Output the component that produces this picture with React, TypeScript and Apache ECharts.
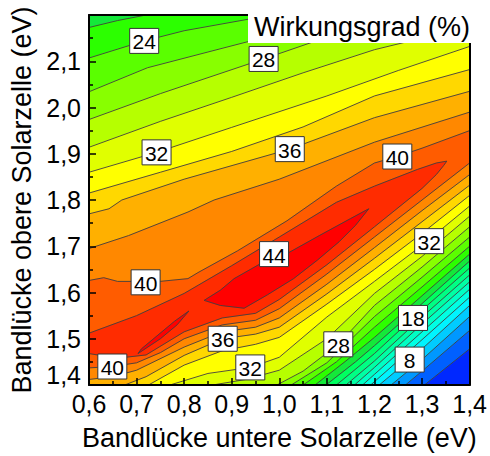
import React, { useEffect, useRef } from 'react';
import * as echarts from 'echarts';

type P = [number, number];

const FONT = "'Liberation Sans', Arial, Helvetica, sans-serif";

// axis ranges (eV)
const X_MIN = 0.6, X_MAX = 1.4, Y_MIN = 1.4, Y_MAX = 2.2;

// contour levels (%)
const levels = [2, 4, 6, 8, 10, 12, 14, 16, 18, 20, 22, 24, 26, 28, 30, 32, 34, 36, 38, 40, 42, 44];

// colour of band [2k, 2k+2]
const bandColors = [
  '#0028ff', '#0060ff', '#0098ff', '#00ccff', '#00f4ff', '#00ffe4', '#00ffc4', '#00ffa4',
  '#00ff84', '#00ff60', '#14e83a', '#2cff00', '#5aff00', '#88ff00', '#b6ff00', '#e0ff00',
  '#ffff00', '#ffd800', '#ffb000', '#ff8800', '#ff5c00', '#ff2c00', '#ff0000',
];

// upper contour branches (read left -> right), efficiency falls towards the top
const U22: P[] = [[0.6, 2.173], [0.66, 2.188], [0.72, 2.2]];
const U24: P[] = [[0.6, 2.107], [0.716, 2.144], [0.8, 2.166], [0.93, 2.19], [0.99, 2.2]];
const U26: P[] = [[0.6, 2.034], [0.723, 2.086], [0.85, 2.12], [1.0, 2.16], [1.2, 2.2]];
const U28: P[] = [[0.6, 1.974], [0.75, 2.03], [0.967, 2.105], [1.1, 2.152], [1.24, 2.2]];
const U30: P[] = [[0.6, 1.914], [0.75, 1.97], [0.9, 2.022], [1.05, 2.075], [1.2, 2.125], [1.4, 2.175]];
const U32: P[] = [[0.6, 1.86], [0.742, 1.903], [0.9, 1.957], [1.1, 2.025], [1.25, 2.08], [1.4, 2.132]];
const U34: P[] = [[0.6, 1.815], [0.75, 1.86], [0.9, 1.905], [1.05, 1.958], [1.2, 2.025], [1.4, 2.082]];
const U36: P[] = [[0.6, 1.77], [0.642, 1.781], [0.669, 1.8], [0.8, 1.845], [1.022, 1.91], [1.2, 1.978], [1.4, 2.035]];
const U38: P[] = [[0.6, 1.695], [0.683, 1.723], [0.808, 1.774], [0.863, 1.8], [1.0, 1.845], [1.2, 1.925], [1.4, 1.99]];
const U40: P[] = [[0.6, 1.626], [0.631, 1.632], [0.66, 1.624], [0.749, 1.624], [0.808, 1.63], [0.829, 1.643],
  [0.912, 1.69], [1.016, 1.755], [1.12, 1.83], [1.2, 1.88], [1.248, 1.894], [1.3, 1.912], [1.4, 1.95]];

// 42 % contour around the ridge (lower branch out, upper branch back)
const K42: P[] = [[0.6, 1.468], [0.66, 1.458], [0.72, 1.465], [0.8, 1.515], [0.88, 1.545], [0.95, 1.555],
  [1.0, 1.585], [1.1, 1.66], [1.2, 1.742], [1.3, 1.825], [1.33, 1.855], [1.345, 1.874], [1.352, 1.884],
  [1.33, 1.88], [1.29, 1.866], [1.2, 1.83], [1.12, 1.795], [1.0, 1.72], [0.9, 1.658], [0.83, 1.616],
  [0.8, 1.598], [0.7, 1.55], [0.6, 1.512]];

// 44 % islands
const M44: P[] = [[0.842, 1.583], [0.876, 1.572], [0.926, 1.566], [0.975, 1.595], [1.03, 1.63], [1.08, 1.67],
  [1.126, 1.71], [1.16, 1.745], [1.188, 1.781], [1.15, 1.76], [1.084, 1.723], [1.016, 1.684], [0.96, 1.662],
  [0.905, 1.63], [0.876, 1.605]];
const S44: P[] = [[0.703, 1.468], [0.75, 1.5], [0.785, 1.53], [0.81, 1.56], [0.78, 1.538], [0.745, 1.508], [0.71, 1.478]];

// lower contour branches (read left -> right), efficiency falls towards the bottom right
const D40: P[] = [[0.6, 1.437], [0.649, 1.44], [0.7, 1.448], [0.75, 1.47], [0.8, 1.5], [0.88, 1.53], [0.95, 1.54],
  [1.0, 1.565], [1.1, 1.64], [1.2, 1.72], [1.3, 1.8], [1.4, 1.88]];
const D38: P[] = [[0.6, 1.412], [0.65, 1.418], [0.7, 1.432], [0.8, 1.482], [0.88, 1.515], [0.95, 1.525], [1.0, 1.545],
  [1.1, 1.618], [1.2, 1.697], [1.3, 1.777], [1.4, 1.855]];
const D36: P[] = [[0.675, 1.4], [0.72, 1.418], [0.8, 1.464], [0.881, 1.5], [0.95, 1.51], [1.0, 1.525], [1.1, 1.597],
  [1.2, 1.674], [1.3, 1.753], [1.4, 1.832]];
const D34: P[] = [[0.725, 1.4], [0.8, 1.443], [0.88, 1.474], [0.95, 1.488], [1.0, 1.503], [1.1, 1.575], [1.2, 1.65],
  [1.3, 1.728], [1.4, 1.81]];
const D32: P[] = [[0.77, 1.4], [0.85, 1.425], [0.939, 1.438], [1.0, 1.46], [1.1, 1.547], [1.2, 1.624], [1.3, 1.702], [1.4, 1.787]];
const D30: P[] = [[0.86, 1.4], [0.93, 1.412], [1.0, 1.432], [1.1, 1.5], [1.2, 1.598], [1.3, 1.678], [1.4, 1.765]];
const D28: P[] = [[0.995, 1.4], [1.05, 1.43], [1.124, 1.488], [1.2, 1.572], [1.3, 1.655], [1.4, 1.742]];
const D26: P[] = [[1.025, 1.4], [1.1, 1.448], [1.2, 1.548], [1.3, 1.633], [1.4, 1.72]];
const D24: P[] = [[1.05, 1.4], [1.12, 1.45], [1.2, 1.525], [1.3, 1.612], [1.4, 1.7]];
const D22: P[] = [[1.075, 1.4], [1.14, 1.452], [1.2, 1.503], [1.3, 1.593], [1.4, 1.683]];
const D20: P[] = [[1.098, 1.4], [1.16, 1.45], [1.2, 1.485], [1.3, 1.576], [1.4, 1.668]];
const D18: P[] = [[1.12, 1.4], [1.2, 1.468], [1.281, 1.545], [1.3, 1.562], [1.4, 1.653]];
const D16: P[] = [[1.14, 1.4], [1.2, 1.452], [1.3, 1.547], [1.4, 1.638]];
const D14: P[] = [[1.158, 1.4], [1.2, 1.438], [1.3, 1.532], [1.4, 1.623]];
const D12: P[] = [[1.175, 1.4], [1.2, 1.423], [1.3, 1.515], [1.4, 1.607]];
const D10: P[] = [[1.192, 1.4], [1.3, 1.498], [1.4, 1.59]];
const D8: P[] = [[1.21, 1.4], [1.274, 1.455], [1.3, 1.478], [1.4, 1.572]];
const D6: P[] = [[1.235, 1.4], [1.3, 1.455], [1.4, 1.548]];
const D4: P[] = [[1.265, 1.4], [1.3, 1.43], [1.4, 1.518]];
const D2: P[] = [[1.305, 1.4], [1.4, 1.478]];

// contour label boxes: x, y, level
const labelX = [0.716, 0.967, 0.742, 1.022, 1.248, 0.989, 0.719, 0.881, 0.939, 1.124, 1.315, 1.281, 1.274, 0.649];
const labelY = [2.144, 2.105, 1.903, 1.91, 1.894, 1.683, 1.622, 1.5, 1.438, 1.488, 1.711, 1.545, 1.455, 1.44];
const labelText = [24, 28, 32, 36, 40, 44, 40, 36, 32, 28, 32, 18, 8, 40];

// ---- build level sets ----
const upperOf: Record<number, P[]> = { 22: U22, 24: U24, 26: U26, 28: U28, 30: U30, 32: U32, 34: U34, 36: U36, 38: U38, 40: U40 };
const lowerOf: Record<number, P[]> = { 2: D2, 4: D4, 6: D6, 8: D8, 10: D10, 12: D12, 14: D14, 16: D16, 18: D18, 20: D20,
  22: D22, 24: D24, 26: D26, 28: D28, 30: D30, 32: D32, 34: D34, 36: D36, 38: D38, 40: D40 };

function openPieces(L: number): P[][] {
  const res: P[][] = [];
  if (lowerOf[L]) res.push(lowerOf[L]);
  if (upperOf[L]) res.push(upperOf[L].slice().reverse());
  if (L === 42) res.push(K42);
  return res;
}
function closedPieces(L: number): P[][] {
  return L === 44 ? [M44, S44] : [];
}

const corners: P[] = [[X_MIN, Y_MIN], [X_MAX, Y_MIN], [X_MAX, Y_MAX], [X_MIN, Y_MAX]];
function tParam(p: P): number {
  const [x, y] = p;
  const e = 1e-6;
  const W = X_MAX - X_MIN, H = Y_MAX - Y_MIN;
  if (Math.abs(y - Y_MIN) < e) return (x - X_MIN) / W;
  if (Math.abs(x - X_MAX) < e) return 1 + (y - Y_MIN) / H;
  if (Math.abs(y - Y_MAX) < e) return 2 + (X_MAX - x) / W;
  return 3 + (Y_MAX - y) / H;
}
const mod4 = (v: number) => ((v % 4) + 4) % 4;

function region(L: number): P[][] {
  if (L === 0) return [corners.slice()];
  const open = openPieces(L);
  const polys: P[][] = closedPieces(L).map((c) => c.slice());
  const used = open.map(() => false);
  for (let i = 0; i < open.length; i++) {
    if (used[i]) continue;
    const poly: P[] = [];
    let cur = i;
    for (let guard = 0; guard < 40; guard++) {
      used[cur] = true;
      poly.push(...open[cur]);
      const te = tParam(open[cur][open[cur].length - 1]);
      let best = -1, bestD = Infinity;
      for (let j = 0; j < open.length; j++) {
        if (used[j] && j !== i) continue;
        const d = mod4(tParam(open[j][0]) - te);
        if (d < bestD) { bestD = d; best = j; }
      }
      const cs = [0, 1, 2, 3].map((k) => ({ k, d: mod4(k - te) })).filter((c) => c.d < bestD).sort((a, b) => a.d - b.d);
      cs.forEach((c) => poly.push(corners[c.k]));
      if (best === i || best < 0) break;
      cur = best;
    }
    polys.push(poly);
  }
  return polys;
}

const fillLevels = [0, ...levels];
const regions: Record<number, P[][]> = {};
fillLevels.forEach((L) => { regions[L] = region(L); });

const linePieces: P[][] = [];
levels.forEach((L) => {
  openPieces(L).forEach((p) => linePieces.push(p));
  closedPieces(L).forEach((p) => linePieces.push([...p, p[0]]));
});

const fmt = (v: number) => v.toFixed(1).replace('.', ',');

export default function App() {
  const ref = useRef<HTMLDivElement>(null);
  useEffect(() => {
    if (!ref.current) return;
    const chart = echarts.init(ref.current, null, { renderer: 'svg' });
    const axisCommon = {
      z: 10,
      axisLine: { show: true, lineStyle: { color: '#000', width: 2 } },
      splitLine: { show: false },
    };
    const option: any = {
      animation: false,
      grid: { left: 88, right: 17, top: 15, bottom: 69 },
      xAxis: [
        {
          ...axisCommon,
          type: 'value', min: X_MIN, max: X_MAX, interval: 0.1, position: 'bottom',
          axisTick: { show: true, inside: true, length: 7, lineStyle: { color: '#000', width: 1.5 } },
          minorTick: { show: true, splitNumber: 2, length: 4, lineStyle: { color: '#000', width: 1.5 } },
          axisLabel: { formatter: fmt, fontSize: 25, color: '#000', fontFamily: FONT, margin: 6 },
          name: 'Bandlücke untere Solarzelle (eV)', nameLocation: 'middle', nameGap: 39,
          nameTextStyle: { fontSize: 27, color: '#000', fontFamily: FONT },
        },
        {
          ...axisCommon,
          type: 'value', min: X_MIN, max: X_MAX, position: 'top',
          axisTick: { show: false }, axisLabel: { show: false },
        },
      ],
      yAxis: [
        {
          ...axisCommon,
          type: 'value', min: Y_MIN, max: Y_MAX, interval: 0.1, position: 'left',
          axisTick: { show: true, inside: true, length: 7, lineStyle: { color: '#000', width: 1.5 } },
          minorTick: { show: true, splitNumber: 2, length: 4, lineStyle: { color: '#000', width: 1.5 } },
          axisLabel: {
            formatter: (v: number) => {
              if (Math.abs(v - Y_MAX) < 1e-6) return '';
              if (Math.abs(v - Y_MIN) < 1e-6) return '{b|' + fmt(v) + '}';
              return fmt(v);
            },
            fontSize: 25, color: '#000', fontFamily: FONT, margin: 8,
            rich: { b: { fontSize: 25, color: '#000', fontFamily: FONT, padding: [0, 0, 20, 0] } },
          },
          name: 'Bandlücke obere Solarzelle (eV)', nameLocation: 'middle', nameGap: 54,
          nameTextStyle: { fontSize: 27, color: '#000', fontFamily: FONT },
        },
        {
          ...axisCommon,
          type: 'value', min: Y_MIN, max: Y_MAX, position: 'right',
          axisTick: { show: false }, axisLabel: { show: false },
        },
      ],
      series: [
        {
          type: 'custom', z: 2, clip: true, silent: true,
          data: fillLevels.map((L) => [X_MIN, Y_MIN, L]),
          renderItem: (_p: any, api: any) => {
            const L = api.value(2);
            const c = bandColors[L / 2];
            return {
              type: 'group',
              children: regions[L].map((poly) => ({
                type: 'polygon',
                shape: { points: poly.map((pt) => api.coord(pt)) },
                style: { fill: c, stroke: c, lineWidth: 0.6 },
              })),
            };
          },
        },
        {
          type: 'custom', z: 3, clip: true, silent: true,
          data: linePieces.map((_, i) => [X_MIN, Y_MIN, i]),
          renderItem: (_p: any, api: any) => {
            const piece = linePieces[api.value(2)];
            return {
              type: 'polyline',
              shape: { points: piece.map((pt) => api.coord(pt)) },
              style: { fill: 'none', stroke: '#404040', lineWidth: 0.9 },
            };
          },
        },
        {
          type: 'custom', z: 4, clip: false, silent: true,
          data: labelX.map((x, i) => [x, labelY[i], labelText[i]]),
          renderItem: (_p: any, api: any) => {
            const pt = api.coord([api.value(0), api.value(1)]);
            return {
              type: 'group',
              children: [
                {
                  type: 'rect',
                  shape: { x: pt[0] - 14.5, y: pt[1] - 12.5, width: 29, height: 25 },
                  style: { fill: '#fff', stroke: '#333', lineWidth: 1 },
                },
                {
                  type: 'text', x: pt[0], y: pt[1] + 1,
                  style: {
                    text: String(api.value(2)), fontSize: 21, fontFamily: FONT, fill: '#000',
                    align: 'center', verticalAlign: 'middle', textAlign: 'center', textVerticalAlign: 'middle',
                  },
                },
              ],
            };
          },
        },
      ],
      graphic: [
        { type: 'rect', z: 100, shape: { x: 248, y: 6, width: 230, height: 37 }, style: { fill: '#fff' } },
        {
          type: 'text', z: 101, x: 254, y: 27,
          style: {
            text: 'Wirkungsgrad (%)', fontSize: 27, fontFamily: FONT, fill: '#000',
            verticalAlign: 'middle', textVerticalAlign: 'middle',
          },
        },
      ],
    };
    chart.setOption(option);
    return () => chart.dispose();
  }, []);
  return <div ref={ref} style={{ position: 'absolute', left: 0, top: 0, width: 490, height: 456 }} />;
}
